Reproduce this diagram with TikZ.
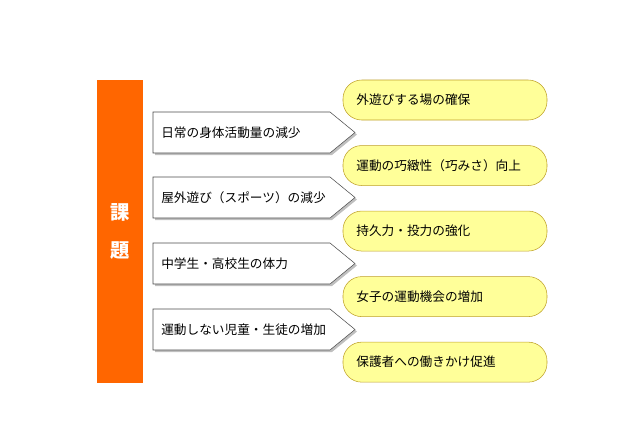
\documentclass[tikz,border=0pt]{standalone}
\usepackage{fontspec}
\setmainfont{Noto Sans CJK JP}
\usetikzlibrary{positioning}
\definecolor{kadaiorange}{RGB}{255,102,0}
\definecolor{boxyellow}{RGB}{255,255,153}
\definecolor{boxedge}{RGB}{190,160,40}
\begin{document}
\begin{tikzpicture}[x=0.75pt, y=-0.75pt,
    font=\fontsize{9.5}{11}\selectfont,
    cause/.style={draw=black!70, fill=white, thin},
    measure/.style={draw=boxedge, fill=boxyellow, rounded corners=14pt,
      minimum width=153pt, minimum height=30pt, inner xsep=10pt,
      text width=133pt, align=left}
  ]
  \useasboundingbox (0,0) rectangle (640,437);
  % title bar
  \node[fill=kadaiorange, minimum width=34.5pt, minimum height=227pt,
    text=white, font=\fontsize{14.5}{28}\selectfont\bfseries, align=center]
    (kadai) at (120,231.5) {課\\題};
  % causes
  \foreach \y/\name/\txt in {112/c1/日常の身体活動量の減少,
                             177/c2/屋外遊び（スポーツ）の減少,
                             243/c3/中学生・高校生の体力,
                             309/c4/運動しない児童・生徒の増加}{
    \fill[black!25] (155,\y+2) -- (332,\y+2) -- (357,\y+22.5) -- (332,\y+43) -- (155,\y+43) -- cycle;
    \draw[cause] (153,\y) -- (330,\y) -- (355,\y+20.5) -- (330,\y+41) -- (153,\y+41) -- cycle;
    \node[anchor=west, inner sep=0pt] (\name) at (161,\y+20.5) {\txt};
  }
  % measures
  \node[measure] (m1) at (445,100) {外遊びする場の確保};
  \node[measure, below=25*0.75pt of m1] (m2) {運動の巧緻性（巧みさ）向上};
  \node[measure, below=25*0.75pt of m2] (m3) {持久力・投力の強化};
  \node[measure, below=25*0.75pt of m3] (m4) {女子の運動機会の増加};
  \node[measure, below=25*0.75pt of m4] (m5) {保護者への働きかけ促進};
\end{tikzpicture}
\end{document}
